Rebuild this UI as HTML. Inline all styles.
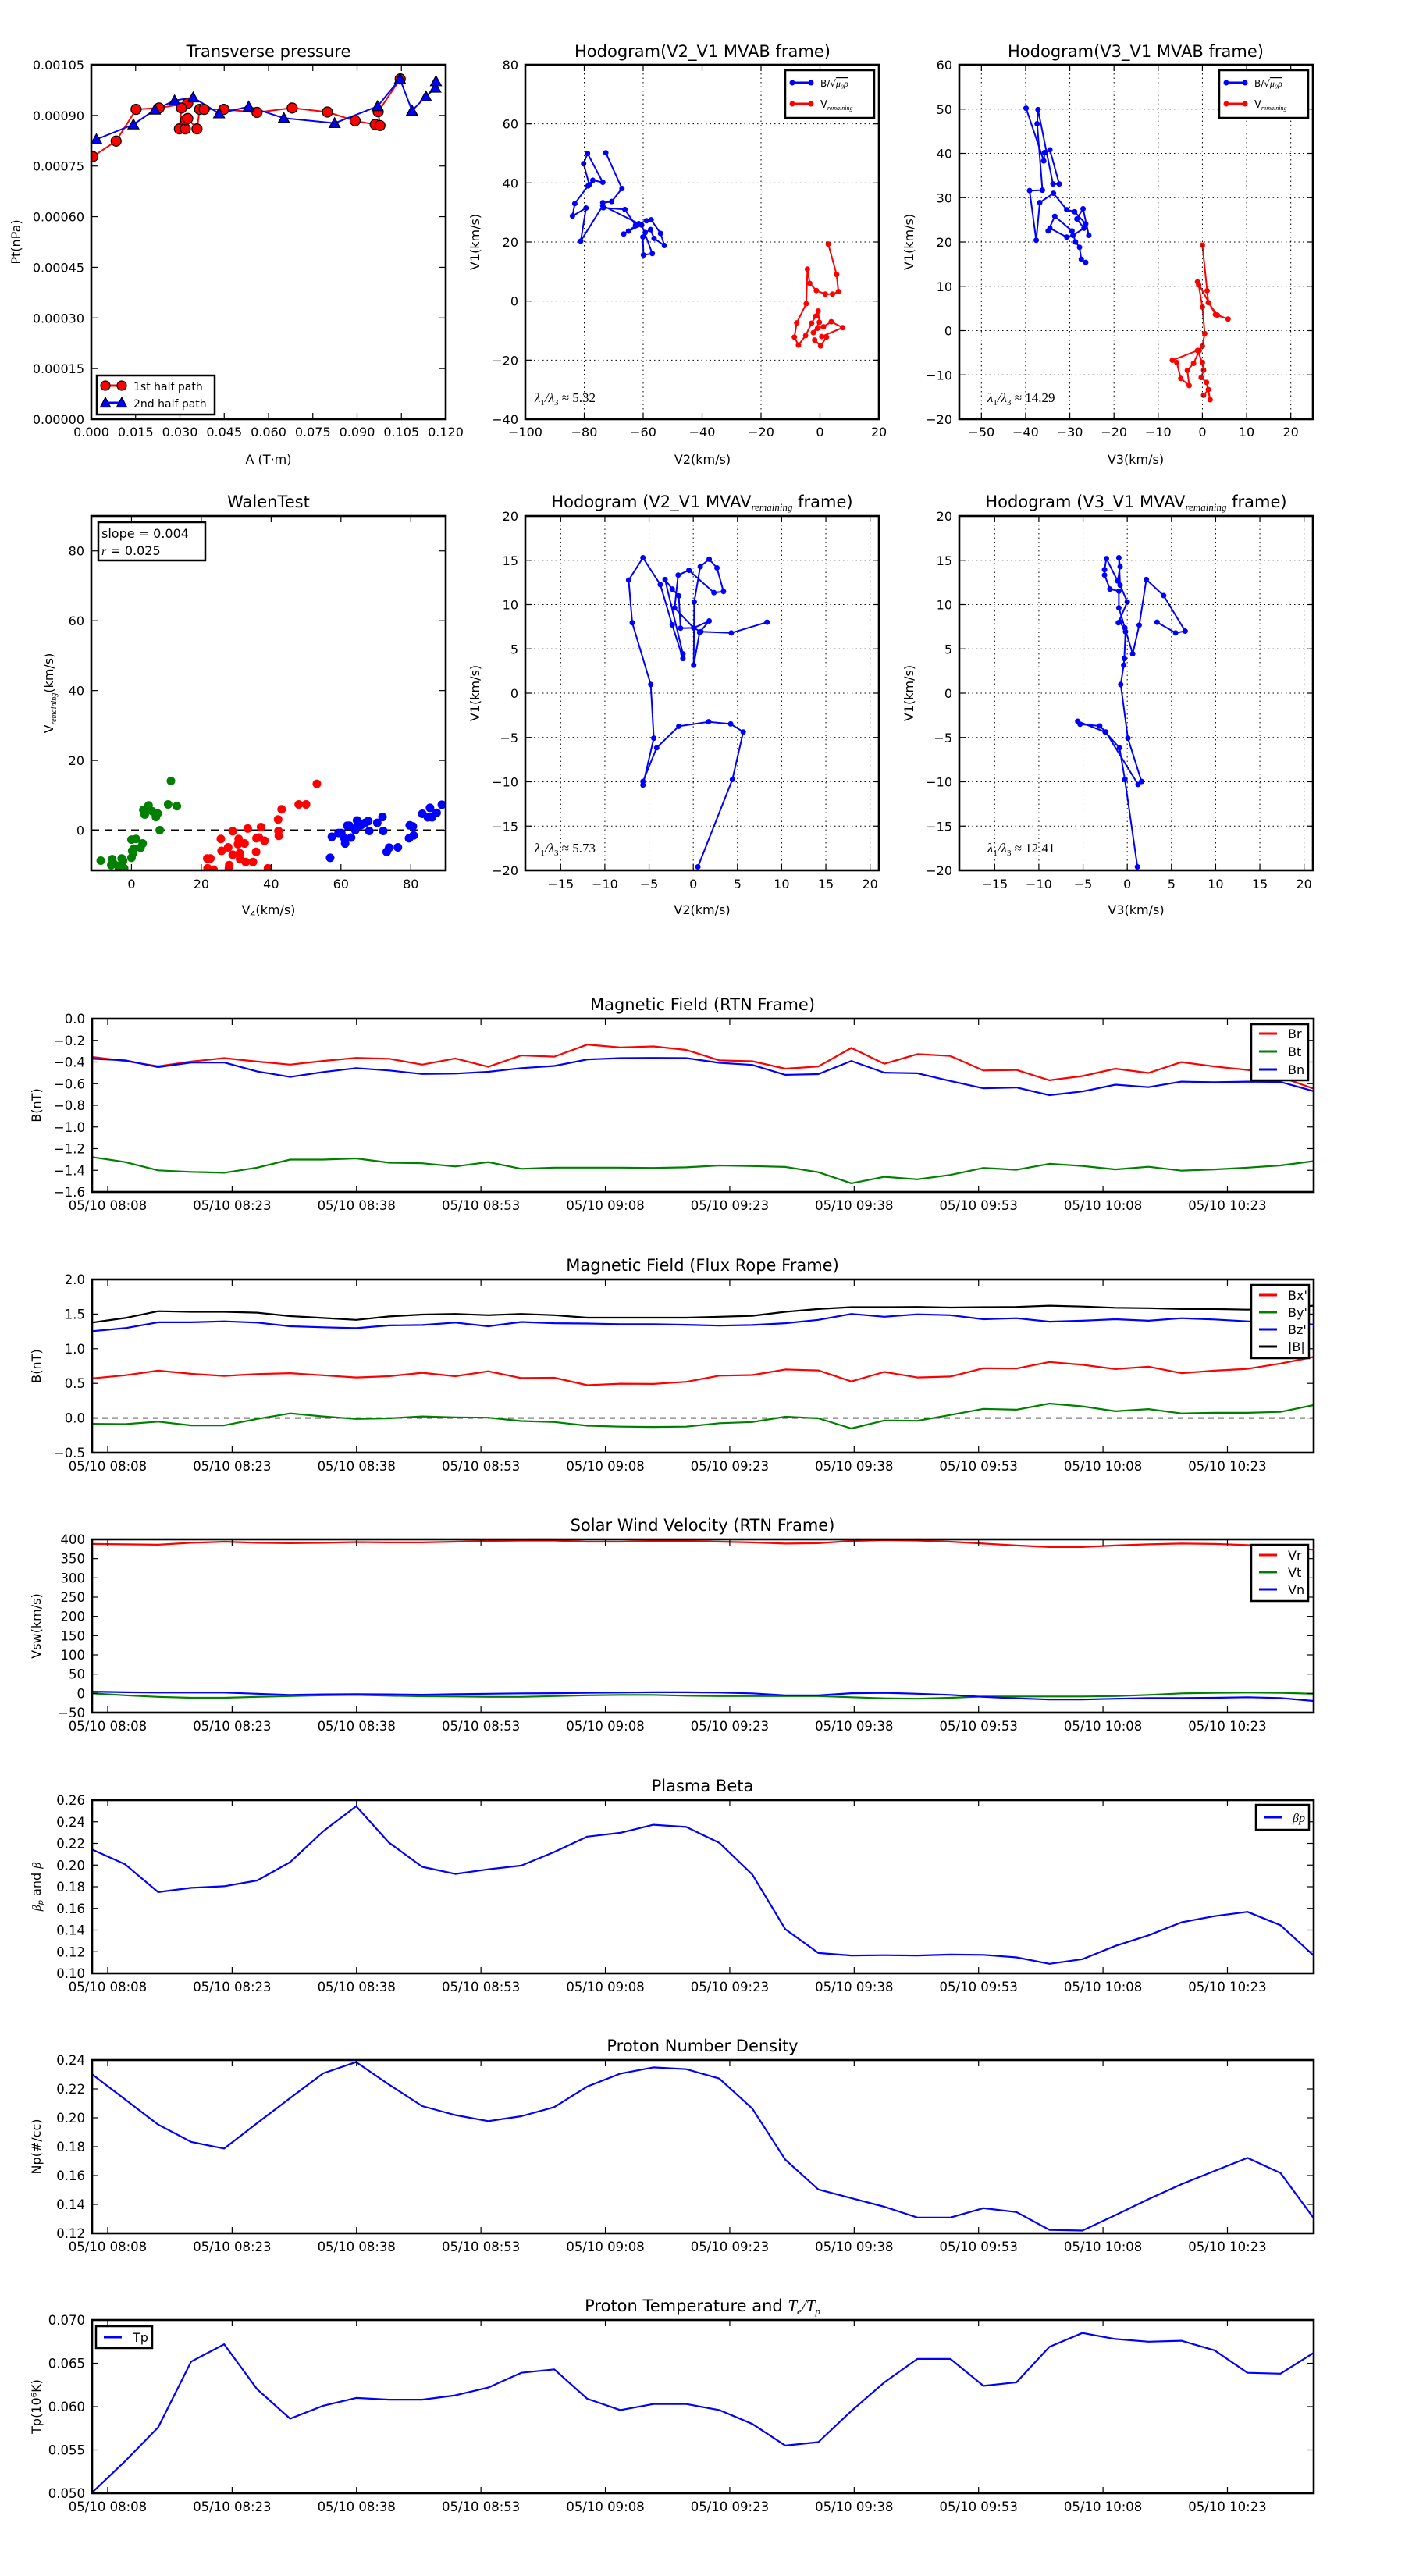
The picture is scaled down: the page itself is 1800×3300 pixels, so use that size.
<!DOCTYPE html>
<html><head><meta charset="utf-8"><title>Flux rope analysis</title>
<style>
html,body{margin:0;padding:0;background:#fff;}
svg{display:block;font-family:"DejaVu Sans","Liberation Sans",sans-serif;}
</style></head>
<body>
<svg id="fig" xmlns="http://www.w3.org/2000/svg" width="1800" height="3300" viewBox="0 0 1800 3300">
<rect x="0" y="0" width="1800" height="3300" fill="#fff"/>
</svg>
<script>
// ---------- Data: Transverse pressure ----------
const pt1A=[0.0005,0.0084,0.01516,0.02294,0.03265,0.03053,0.02982,0.03184,0.03194,0.03265,0.03578,0.03669,0.03821,0.04488,0.0561,0.06802,0.07995,0.08935,0.09612,0.09774,0.09713,0.1046];
const pt1P=[0.000778,0.000824,0.000918,0.000922,0.000936,0.000922,0.00086,0.00086,0.000887,0.000891,0.00086,0.000918,0.000918,0.000918,0.000909,0.000922,0.00091,0.000884,0.000873,0.00087,0.000911,0.001008];
const pt2A=[0.00172,0.01425,0.02153,0.0282,0.03447,0.04326,0.05327,0.06519,0.08238,0.09693,0.1045,0.1086,0.1133,0.1165,0.1167];
const pt2P=[0.000829,0.000873,0.000917,0.000944,0.000953,0.000906,0.000926,0.000892,0.000877,0.000927,0.001008,0.000914,0.000956,0.000982,0.001001];
const ptXTicks=[0,0.015,0.03,0.045,0.06,0.075,0.09,0.105,0.12];
const ptYTicks=[0,0.00015,0.0003,0.00045,0.0006,0.00075,0.0009,0.00105];
// ---------- Data: Hodogram V2_V1 MVAB ----------
const h1bV2=[-72.7,-67.2,-70.7,-73.7,-73.5,-66.2,-62.6,-58.9,-57.3,-54.1,-52.8,-56.3,-57.5,-59.3,-60.1,-59.9,-56.9,-60.5,-65.0,-66.6,-61.5,-73.7,-81.2,-79.4,-84.0,-83.2,-78.7,-77.1,-73.7,-78.9,-80.2,-78.3];
const h1bV1=[50.2,38.1,33.7,33.3,31.6,31.0,25.7,27.2,27.5,22.9,18.8,21.2,24.2,23.2,21.7,15.6,16.1,25.7,23.7,22.7,26.2,32.3,20.3,31.5,28.8,33.0,39.0,40.9,40.2,50.0,46.5,39.4];
const h1rV2=[2.8,5.65,6.26,4.24,1.81,-1.23,-3.46,-4.27,-4.67,-7.9,-8.7,-7.3,-4.87,-2.85,-1.43,-0.62,-0.22,-2.24,-0.83,1.2,3.83,7.7,0.6,2.2,0.2,-1.8];
const h1rV1=[19.3,9.0,3.2,2.35,2.35,3.56,6.0,10.8,-0.9,-7.4,-12.2,-14.9,-11.7,-7.5,-5.1,-3.4,-7.2,-10.7,-9.2,-8.7,-7.0,-9.0,-12.0,-12.2,-15.2,-13.2];
const h1XTicks=[-100,-80,-60,-40,-20,0,20];
const h1YTicks=[-40,-20,0,20,40,60,80];
// ---------- Data: Hodogram V3_V1 MVAB ----------
const h2bV3=[-39.9,-35.9,-35.7,-34.5,-32.4,-33.8,-37.2,-37.4,-36.2,-39.1,-37.6,-36.8,-33.7,-30.7,-28.9,-26.4,-25.7,-27.0,-28.4,-26.8,-29.3,-30.7,-34.5,-34.9,-33.4,-29.5,-28.7,-27.8,-27.4,-26.4];
const h2bV1=[50.2,38.3,40.2,40.8,33.1,33.1,49.9,46.7,31.7,31.6,20.4,28.9,31.0,27.3,26.8,24.1,21.5,27.5,25.2,23.1,21.5,21.1,23.1,22.5,25.8,22.5,20.0,18.8,16.1,15.4];
const h2rV3=[0.0,1.07,1.34,3.37,5.8,2.96,-1.1,-0.84,0.0,0.53,0.0,-0.7,-2.0,-3.4,-3.0,-4.9,-5.8,-6.8,-1.1,0.0,0.27,-0.27,0.94,1.75,1.34,0.27];
const h2rV1=[19.3,9.0,6.3,3.5,2.6,3.6,11.0,10.3,5.3,-0.65,-3.5,-4.5,-7.4,-9.0,-12.4,-10.8,-7.2,-6.7,-4.5,-7.2,-8.9,-10.6,-11.7,-15.6,-13.3,-14.6];
const h2XTicks=[-50,-40,-30,-20,-10,0,10,20];
const h2YTicks=[-20,-10,0,10,20,30,40,50,60];
// ---------- Data: Walen test ----------
const wGreenVA=[-8.8,-5.5,-5.8,-5.1,-3.8,-2.8,-2.4,-3.6,-2.1,0,1.3,0.2,0.7,0,0.5,2.6,3.2,3.4,3.8,4.9,6.0,7.0,7.5,8.1,10.5,11.3,13.0];
const wGreenVR=[-8.7,-8.3,-10.0,-9.6,-10.2,-8.1,-8.7,-10.9,-10.9,-2.7,-2.5,-5.9,-5.3,-7.9,-6.6,-5.0,-3.8,5.8,4.5,7.1,5.4,3.8,4.8,0,7.4,14.1,6.9];
const wRedVA=[21.7,22.6,21.8,23.5,25.6,25.8,27.7,28.0,27.9,29.0,29.0,30.7,30.5,31.0,31.1,32.4,32.7,33.3,34.8,35.7,35.8,36.5,37.1,38.1,39.1,42.0,42.1,42.2,43.0,47.9,50.0,53.1];
const wRedVR=[-8.1,-8.1,-10.9,-11.3,-2.5,-5.9,-4.9,-10.0,-10.9,-0.3,-7.0,-2.5,-4.0,-6.6,-8.3,-3.8,-9.1,0.5,-9.1,-6.2,-2.3,-2.1,0.9,-3.0,-10.9,3.1,-0.2,-1.6,6.0,7.4,7.4,13.3];
const wBlueVA=[56.9,57.4,59.3,60.1,61.0,61.2,61.8,62.4,62.9,64.1,64.6,65.0,65.8,66.9,67.8,68.1,70.4,71.9,72.1,73.1,73.8,76.3,79.5,79.7,80.6,80.8,83.3,84.9,85.5,86.1,87.4,88.9];
const wBlueVR=[-7.9,-1.9,-0.8,-0.8,-2.3,-3.8,1.3,1.3,-2.1,0,2.8,1.3,1.5,2.1,2.6,-0.2,2.1,3.8,-0.2,-6.2,-5.0,-4.9,-2.3,1.4,1.1,-1.5,4.7,3.7,6.4,3.7,5.0,7.3];
const wXTicks=[0,20,40,60,80];
const wYTicks=[0,20,40,60,80];
// ---------- Data: Hodograms MVAV ----------
const h3V2=[0.52,4.43,5.65,4.23,1.73,-1.64,-4.14,-5.69,-5.69,-4.47,-4.81,-6.9,-7.31,-5.69,-3.73,-2.38,-1.17,-1.17,-3.19,-2.38,-1.64,-1.44,0.05,1.8,0.72,0.05,0.11,0.79,1.8,2.68,3.42,2.34,-0.49,-1.71,-2.11,0.05,0.86,4.3,8.35];
const h3V1=[-19.6,-9.74,-4.38,-3.47,-3.23,-3.74,-6.16,-9.97,-10.37,-5.08,0.98,7.95,12.76,15.29,12.26,7.71,3.91,4.44,12.83,11.75,10.98,7.34,7.37,8.15,6.87,3.16,10.3,14.28,15.12,14.14,11.48,11.35,13.87,13.33,9.63,7.37,6.94,6.8,8.01];
const h4V3=[1.15,-0.27,-0.88,-2.5,-5.61,-5.34,-3.11,-2.43,1.22,1.62,0.07,-0.74,-0.4,-0.33,-0.2,-0.81,-1.01,0,-0.81,-0.95,-0.81,-1.08,-2.36,-2.57,-2.57,-1.96,-0.95,-0.95,-0.27,0.61,1.35,2.16,4.12,6.55,5.47,3.37];
const h4V1=[-19.6,-9.74,-6.16,-4.38,-3.17,-3.5,-3.7,-4.38,-10.3,-9.97,-5.08,0.98,3.16,3.91,6.94,8.05,7.95,10.3,12.19,15.29,14.28,12.66,15.19,13.94,13.33,11.75,11.52,9.63,7.37,4.44,7.68,12.83,11.01,7.0,6.8,8.01];
const h34XTicks=[-15,-10,-5,0,5,10,15,20];
const h34YTicks=[-20,-15,-10,-5,0,5,10,15,20];
// ---------- Data: time series ----------
const timeLabels=["05/10 08:08","05/10 08:23","05/10 08:38","05/10 08:53","05/10 09:08","05/10 09:23","05/10 09:38","05/10 09:53","05/10 10:08","05/10 10:23"];
const timeTickMin=[0,15,30,45,60,75,90,105,120,135];
const sampleStartMin=-1.88, sampleStepMin=3.98;
const Br=[-0.353,-0.39,-0.44,-0.396,-0.364,-0.396,-0.424,-0.39,-0.362,-0.37,-0.424,-0.367,-0.444,-0.339,-0.35,-0.239,-0.265,-0.256,-0.288,-0.384,-0.393,-0.461,-0.441,-0.27,-0.416,-0.327,-0.344,-0.478,-0.473,-0.569,-0.53,-0.461,-0.501,-0.401,-0.441,-0.473,-0.538,-0.646];
const Bt=[-1.278,-1.324,-1.4,-1.415,-1.423,-1.375,-1.301,-1.301,-1.29,-1.33,-1.335,-1.364,-1.324,-1.386,-1.375,-1.375,-1.375,-1.378,-1.372,-1.355,-1.361,-1.369,-1.418,-1.52,-1.46,-1.483,-1.443,-1.378,-1.395,-1.34,-1.36,-1.392,-1.367,-1.403,-1.392,-1.375,-1.355,-1.315];
const Bn=[-0.37,-0.384,-0.447,-0.404,-0.404,-0.487,-0.538,-0.492,-0.456,-0.478,-0.51,-0.507,-0.49,-0.456,-0.436,-0.376,-0.364,-0.362,-0.364,-0.407,-0.427,-0.518,-0.512,-0.39,-0.498,-0.504,-0.575,-0.643,-0.635,-0.706,-0.672,-0.609,-0.632,-0.581,-0.587,-0.581,-0.584,-0.669];
const Bxp=[0.572,0.617,0.683,0.639,0.608,0.635,0.648,0.617,0.586,0.604,0.653,0.604,0.674,0.577,0.581,0.474,0.496,0.492,0.523,0.612,0.621,0.7,0.687,0.528,0.666,0.586,0.599,0.719,0.714,0.808,0.768,0.706,0.741,0.648,0.683,0.71,0.786,0.879];
const Byp=[-0.085,-0.089,-0.053,-0.107,-0.107,-0.013,0.067,0.022,-0.013,-0.004,0.022,0.009,0.004,-0.044,-0.058,-0.111,-0.125,-0.129,-0.125,-0.076,-0.058,0.018,-0.004,-0.151,-0.036,-0.04,0.044,0.133,0.12,0.209,0.169,0.098,0.129,0.067,0.076,0.076,0.089,0.187];
const Bzp=[1.253,1.297,1.382,1.382,1.395,1.377,1.324,1.31,1.297,1.337,1.342,1.377,1.324,1.386,1.368,1.364,1.355,1.355,1.346,1.333,1.342,1.368,1.417,1.502,1.462,1.497,1.484,1.426,1.44,1.391,1.404,1.426,1.404,1.44,1.422,1.395,1.368,1.35];
const Bmag=[1.377,1.444,1.542,1.533,1.533,1.52,1.471,1.444,1.417,1.466,1.493,1.502,1.484,1.502,1.484,1.448,1.448,1.448,1.448,1.462,1.475,1.533,1.573,1.6,1.6,1.604,1.595,1.6,1.604,1.622,1.609,1.591,1.586,1.573,1.573,1.564,1.582,1.622];
const Vr=[388,387,386,391,394,391,390,391,393,392,392,394,396,397,397,394,394,396,396,394,392,389,390,396,398,397,394,389,384,380,380,384,387,389,388,385,380,373];
const Vt=[0,-5,-9,-11.5,-11.5,-9,-7,-5,-4,-6,-7.5,-8,-9,-9,-7,-5,-4,-4,-6,-7,-7,-7,-7,-10,-13,-14,-11.5,-8,-8,-8,-8,-7,-4,0,1.5,2,1.5,-1];
const Vn=[4.6,3,2,2,2,-1,-4,-2.5,-2,-2.5,-3.5,-2,-1,0,0.5,1.5,2,3,3,2,0,-5,-5,0.5,1.5,-1,-4,-9,-13,-16,-16,-14,-12,-12,-11.5,-10,-12,-19.5];
const betaP=[0.2144,0.2007,0.175,0.179,0.1804,0.1858,0.2027,0.2312,0.2543,0.2206,0.1984,0.1918,0.1961,0.1995,0.2121,0.2263,0.2298,0.2372,0.2352,0.2206,0.1913,0.1408,0.1188,0.1165,0.1168,0.1165,0.1174,0.1171,0.1148,0.1088,0.1131,0.1254,0.1351,0.1471,0.1528,0.1568,0.1445,0.1165];
const Np=[0.2301,0.2127,0.1953,0.1833,0.1787,0.1963,0.2137,0.2308,0.2386,0.2229,0.2081,0.2019,0.1977,0.2011,0.2074,0.2217,0.2306,0.2349,0.2337,0.2272,0.2064,0.171,0.1504,0.1444,0.1384,0.1309,0.1309,0.1374,0.1347,0.1224,0.1219,0.1326,0.1437,0.154,0.1632,0.1722,0.1618,0.1306];
const Tp=[0.05008,0.0537,0.0576,0.0652,0.0672,0.062,0.0586,0.0601,0.061,0.0608,0.0608,0.0613,0.0622,0.0639,0.0643,0.0609,0.0596,0.0603,0.0603,0.0596,0.058,0.0555,0.0559,0.0595,0.0628,0.0655,0.0655,0.0624,0.0628,0.0669,0.0685,0.0678,0.0675,0.0676,0.0665,0.0639,0.0638,0.0662];

// ---------- helpers ----------
const NS='http://www.w3.org/2000/svg';
const svg=document.getElementById('fig');
let clipN=0;
function mk(tag,parent,attrs){const e=document.createElementNS(NS,tag);for(const k in attrs)e.setAttribute(k,attrs[k]);parent.appendChild(e);return e;}
function lin(d0,d1,r0,r1){return v=>r0+(v-d0)/(d1-d0)*(r1-r0);}
function text(parent,x,y,str,size,anchor,name){
  const t=mk('text',parent,{x:x,y:y,'font-size':size,'text-anchor':anchor||'middle',fill:'#000'});
  t.textContent=str;
  
  
  return t;
}
function axes(name,box,xd,yd){
  const g=mk('g',svg,{});
  
  
  const cp=mk('clipPath',g,{id:'cp'+(++clipN)});
  
  
  const cr=mk('rect',cp,{x:box.l,y:box.t,width:box.r-box.l,height:box.b-box.t});
  
  
  const plot=mk('g',g,{'clip-path':'url(#cp'+clipN+')'});
  
  
  return {g:g,plot:plot,box:box,sx:lin(xd[0],xd[1],box.l,box.r),sy:lin(yd[0],yd[1],box.b,box.t)};
}
function frame(A,name){
  const b=A.box;
  const f=mk('rect',A.g,{x:b.l,y:b.t,width:b.r-b.l,height:b.b-b.t,fill:'none',stroke:'#000','stroke-width':2.6});
  
  
}
function xticks(A,vals,labels,fs,grid,name,lblOff){
  const b=A.box;
  vals.forEach((v,i)=>{
    const x=A.sx(v);
    if(grid){const gl=mk('line',A.g,{x1:x,y1:b.t,x2:x,y2:b.b,stroke:'#000','stroke-width':1,'stroke-dasharray':'1.5,4'});
      
      }
    const t1=mk('line',A.g,{x1:x,y1:b.b,x2:x,y2:b.b-8,stroke:'#000','stroke-width':1.2});
    
    
    const t2=mk('line',A.g,{x1:x,y1:b.t,x2:x,y2:b.t+8,stroke:'#000','stroke-width':1.2});
    
    
    text(A.g,x,b.b+(lblOff||22),labels[i],fs,'middle',name+'-x-tick-label');
  });
}
function yticks(A,vals,labels,fs,grid,name){
  const b=A.box;
  vals.forEach((v,i)=>{
    const y=A.sy(v);
    if(grid){const gl=mk('line',A.g,{x1:b.l,y1:y,x2:b.r,y2:y,stroke:'#000','stroke-width':1,'stroke-dasharray':'1.5,4'});
      
      }
    const t1=mk('line',A.g,{x1:b.l,y1:y,x2:b.l+8,y2:y,stroke:'#000','stroke-width':1.2});
    
    
    const t2=mk('line',A.g,{x1:b.r,y1:y,x2:b.r-8,y2:y,stroke:'#000','stroke-width':1.2});
    
    
    text(A.g,b.l-9,y+6,labels[i],fs,'end',name+'-y-tick-label');
  });
}
function ylabel(A,x,str,fs,name){
  const cy=(A.box.t+A.box.b)/2;
  const t=mk('text',A.g,{x:x,y:cy,'font-size':fs,'text-anchor':'middle',transform:'rotate(-90 '+x+' '+cy+')'});
  t.textContent=str;
  
  
  return t;
}
function polyline(A,xs,ys,color,w,name){
  const pts=xs.map((x,i)=>A.sx(x).toFixed(1)+','+A.sy(ys[i]).toFixed(1)).join(' ');
  const p=mk('polyline',A.plot,{points:pts,fill:'none',stroke:color,'stroke-width':w,'stroke-linejoin':'round'});
  
  
}
function dots(A,xs,ys,color,r,stroke,name){
  xs.forEach((x,i)=>{
    const c=mk('circle',A.plot,{cx:A.sx(x),cy:A.sy(ys[i]),r:r,fill:color,stroke:stroke||'none','stroke-width':1.2});
    
    
  });
}
function tris(A,xs,ys,color,s,name){
  xs.forEach((x,i)=>{
    const cx=A.sx(x),cy=A.sy(ys[i]);
    const p=mk('polygon',A.plot,{points:cx+','+(cy-s)+' '+(cx-s)+','+(cy+s*0.8)+' '+(cx+s)+','+(cy+s*0.8),fill:color,stroke:'#000','stroke-width':1.2});
    
    
  });
}
function legendBox(parent,x,y,w,h,name){
  const r=mk('rect',parent,{x:x,y:y,width:w,height:h,fill:'#fff',stroke:'#000','stroke-width':2.5});
  
  
}
function legendLine(parent,x1,x2,y,color,name){
  const l=mk('line',parent,{x1:x1,y1:y,x2:x2,y2:y,stroke:color,'stroke-width':3});
  
  
}
function fmt(n,d){return n.toFixed(d);}
function fmtM(n,d){const s=n.toFixed(d);return s.replace('-','\u2212');}

// ---------- Panel 1: Transverse pressure ----------
(function(){
  const A=axes('transverse-pressure-chart',{l:117,t:83,r:571,b:537},[0,0.12],[0,0.00105]);
  xticks(A,ptXTicks,ptXTicks.map(v=>fmt(v,3)),16,false,'pt',22);
  yticks(A,ptYTicks,ptYTicks.map(v=>fmt(v,5)),16,false,'pt');
  polyline(A,pt1A,pt1P,'#ff0000',2,'first-half-path-line');
  polyline(A,pt2A,pt2P,'#0000ff',2,'second-half-path-line');
  dots(A,pt1A,pt1P,'#ff0000',6.5,'#000','first-half-path-marker');
  tris(A,pt2A,pt2P,'#0000ff',7,'second-half-path-marker');
  frame(A,'pt');
  text(A.g,344,73,'Transverse pressure',21,'middle','pt-title');
  text(A.g,344,594,'A (T\u00b7m)',16,'middle','pt-x-axis-title');
  ylabel(A,26,'Pt(nPa)',16,'pt-y-axis-title');
  const lg=mk('g',A.g,{});
  
  
  legendBox(lg,124,481,151,50,'pt-legend-box');
  legendLine(lg,135,156,494,'#ff0000','pt-legend-line-1st');
  [135,156].forEach(x=>{const c=mk('circle',lg,{cx:x,cy:494,r:6,fill:'#ff0000',stroke:'#000','stroke-width':1.2});
    
    });
  legendLine(lg,135,156,516,'#0000ff','pt-legend-line-2nd');
  [135,156].forEach(x=>{const p=mk('polygon',lg,{points:x+','+(516-7)+' '+(x-6.5)+','+(516+5.5)+' '+(x+6.5)+','+(516+5.5),fill:'#0000ff',stroke:'#000','stroke-width':1.2});
    
    });
  text(lg,171,500,'1st half path',14,'start','pt-legend-label-1st');
  text(lg,171,522,'2nd half path',14,'start','pt-legend-label-2nd');
})();

// ---------- Hodogram helper ----------
function hodoLegend(A,x0,name){
  const lg=mk('g',A.g,{});
  
  
  legendBox(lg,x0,90,114,61,name+'-legend-box');
  legendLine(lg,x0+9,x0+33,106,'#0000ff',name+'-legend-line-b');
  [x0+9,x0+33].forEach(x=>{const c=mk('circle',lg,{cx:x,cy:106,r:3.5,fill:'#0000ff'});
    
    });
  legendLine(lg,x0+9,x0+33,133,'#ff0000',name+'-legend-line-v');
  [x0+9,x0+33].forEach(x=>{const c=mk('circle',lg,{cx:x,cy:133,r:3.5,fill:'#ff0000'});
    
    });
  const t1=text(lg,x0+45,111,'B/\u221a',12,'start',name+'-legend-label-b');
  const ts=mk('tspan',t1,{'font-style':'italic','font-family':'Liberation Serif, serif','text-decoration':'overline'});
  ts.textContent='\u03bc\u2080\u03c1';
  
  
  const t2=text(lg,x0+45,138,'V',13,'start',name+'-legend-label-v');
  const ts2=mk('tspan',t2,{'font-size':8,'font-style':'italic','font-family':'Liberation Serif, serif',dy:3});
  ts2.textContent='remaining';
  
  
}
function lambdaText(A,x,y,a,b,val,name){
  const t=mk('text',A.g,{x:x,y:y,'font-size':17,'font-family':'Liberation Serif, serif'});
  
  
  const parts=[['\u03bb',0,'italic'],['1',4,''],['/\u03bb',-4,'italic'],[a==='2'?'2':'3',4,''],[' \u2248 '+val,-4,'']];
  parts.forEach(p=>{const s=mk('tspan',t,{dy:p[1]});if(p[2])s.setAttribute('font-style',p[2]);if(p[1]>0)s.setAttribute('font-size',11);s.textContent=p[0];
    
    });
}
// ---------- Panel 2: Hodogram V2_V1 MVAB ----------
(function(){
  const A=axes('hodogram-v2v1-mvab',{l:673,t:83,r:1126,b:537},[-100,20],[-40,80]);
  xticks(A,h1XTicks,h1XTicks.map(v=>fmtM(v,0)),16,true,'h1',22);
  yticks(A,h1YTicks,h1YTicks.map(v=>fmtM(v,0)),16,true,'h1');
  polyline(A,h1bV2,h1bV1,'#0000ff',2,'h1-b-alfven-line');
  dots(A,h1bV2,h1bV1,'#0000ff',3.5,null,'h1-b-alfven-point');
  polyline(A,h1rV2,h1rV1,'#ff0000',2,'h1-v-remaining-line');
  dots(A,h1rV2,h1rV1,'#ff0000',3.5,null,'h1-v-remaining-point');
  frame(A,'h1');
  text(A.g,900,73,'Hodogram(V2_V1 MVAB frame)',21,'middle','h1-title');
  text(A.g,900,594,'V2(km/s)',16,'middle','h1-x-axis-title');
  ylabel(A,614,'V1(km/s)',16,'h1-y-axis-title');
  hodoLegend(A,1006,'h1');
  lambdaText(A,685,515,'1','2','5.32','h1-eigen-ratio');
})();
// ---------- Panel 3: Hodogram V3_V1 MVAB ----------
(function(){
  const A=axes('hodogram-v3v1-mvab',{l:1229,t:83,r:1682,b:537},[-55,25],[-20,60]);
  xticks(A,h2XTicks,h2XTicks.map(v=>fmtM(v,0)),16,true,'h2',22);
  yticks(A,h2YTicks,h2YTicks.map(v=>fmtM(v,0)),16,true,'h2');
  polyline(A,h2bV3,h2bV1,'#0000ff',2,'h2-b-alfven-line');
  dots(A,h2bV3,h2bV1,'#0000ff',3.5,null,'h2-b-alfven-point');
  polyline(A,h2rV3,h2rV1,'#ff0000',2,'h2-v-remaining-line');
  dots(A,h2rV3,h2rV1,'#ff0000',3.5,null,'h2-v-remaining-point');
  frame(A,'h2');
  text(A.g,1455,73,'Hodogram(V3_V1 MVAB frame)',21,'middle','h2-title');
  text(A.g,1455,594,'V3(km/s)',16,'middle','h2-x-axis-title');
  ylabel(A,1170,'V1(km/s)',16,'h2-y-axis-title');
  hodoLegend(A,1562,'h2');
  lambdaText(A,1265,515,'1','3','14.29','h2-eigen-ratio');
})();
// ---------- Panel 4: Walen test ----------
(function(){
  const A=axes('walen-test-chart',{l:117,t:661,r:571,b:1115},[-11.5,90],[-11.5,90]);
  xticks(A,wXTicks,wXTicks.map(v=>String(v)),16,false,'walen',23);
  yticks(A,wYTicks,wYTicks.map(v=>String(v)),16,false,'walen');
  const dl=mk('line',A.plot,{x1:A.sx(-11.5),y1:A.sy(0),x2:A.sx(90),y2:A.sy(0),stroke:'#000','stroke-width':2,'stroke-dasharray':'10,7'});
  
  
  dots(A,wGreenVA,wGreenVR,'#008000',5.5,null,'walen-point-green');
  dots(A,wRedVA,wRedVR,'#ff0000',5.5,null,'walen-point-red');
  dots(A,wBlueVA,wBlueVR,'#0000ff',5.5,null,'walen-point-blue');
  frame(A,'walen');
  text(A.g,344,650,'WalenTest',21,'middle','walen-title');
  const xl=text(A.g,344,1171,'V',16,'middle','walen-x-axis-title');
  const xs=mk('tspan',xl,{'font-size':10,'font-style':'italic',dy:3});xs.textContent='A';
  
  
  const xs2=mk('tspan',xl,{dy:-3});xs2.textContent='(km/s)';
  
  
  const yl=ylabel(A,68,'V',16,'walen-y-axis-title');
  const ys=mk('tspan',yl,{'font-size':10,'font-style':'italic','font-family':'Liberation Serif, serif',dy:4});ys.textContent='remaining';
  
  
  const ys2=mk('tspan',yl,{dy:-4});ys2.textContent='(km/s)';
  
  
  legendBox(A.g,126,669,137,49,'walen-stats-box');
  text(A.g,130,689,'slope = 0.004',16,'start','walen-slope-text');
  const rt=text(A.g,130,711,'',16,'start','walen-r-text');
  const ri=mk('tspan',rt,{'font-style':'italic','font-family':'Liberation Serif, serif'});ri.textContent='r';
  
  
  const rv=mk('tspan',rt,{});rv.textContent=' = 0.025';
  
  
})();
// ---------- Panel 5/6: MVAV hodograms ----------
function mvav(name,box,xs,ys,title,xlab,ylx,lamX,lamB,lamV){
  const A=axes(name,box,[-19,21],[-20,20]);
  xticks(A,h34XTicks,h34XTicks.map(v=>fmtM(v,0)),16,true,name,23);
  yticks(A,h34YTicks,h34YTicks.map(v=>fmtM(v,0)),16,true,name);
  polyline(A,xs,ys,'#0000ff',2,name+'-line');
  dots(A,xs,ys,'#0000ff',3.5,null,name+'-point');
  frame(A,name);
  const cx=(box.l+box.r)/2;
  const t=text(A.g,cx,650,title[0],21,'middle',name+'-title');
  const s=mk('tspan',t,{'font-size':13,'font-style':'italic','font-family':'Liberation Serif, serif',dy:4});s.textContent='remaining';
  
  
  const s2=mk('tspan',t,{dy:-4});s2.textContent=' frame)';
  
  
  text(A.g,cx,1171,xlab,16,'middle',name+'-x-axis-title');
  ylabel(A,ylx,'V1(km/s)',16,name+'-y-axis-title');
  lambdaText(A,lamX,1092,'1',lamB,lamV,name+'-eigen-ratio');
}
mvav('hodogram-v2v1-mvav',{l:673,t:661,r:1126,b:1115},h3V2,h3V1,['Hodogram (V2_V1 MVAV'],'V2(km/s)',614,685,'2','5.73');
mvav('hodogram-v3v1-mvav',{l:1229,t:661,r:1682,b:1115},h4V3,h4V1,['Hodogram (V3_V1 MVAV'],'V3(km/s)',1170,1265,'3','12.41');

// ---------- Time series panels ----------
const tsTimes=Br.map((_,i)=>sampleStartMin+sampleStepMin*i);
function tsPanel(name,top,yd,yt,ydec,series,title,yl,legend){
  const box={l:118,t:top,r:1683,b:top+222};
  const A=axes(name,box,[-1.88,145.4],yd);
  xticks(A,timeTickMin,timeLabels,16.5,false,name,23);
  yticks(A,yt,yt.map(v=>fmtM(v,ydec)),16.5,false,name);
  series.forEach(s=>{
    if(s.dash){const l=mk('line',A.plot,{x1:box.l,x2:box.r,y1:A.sy(0),y2:A.sy(0),stroke:'#000','stroke-width':1.6,'stroke-dasharray':'7,6'});
      
      }
    else polyline(A,tsTimes,s.v,s.c,2.2,name+'-'+s.n+'-line');
  });
  frame(A,name);
  if(typeof title==='string') text(A.g,900,top-11,title,21,'middle',name+'-title');
  else title(A);
  if(typeof yl==='string') ylabel(A,52,yl,16,name+'-y-axis-title');
  else yl(A);
  if(legend){
    const lg=mk('g',A.g,{});
    
    
    legendBox(lg,legend.x,legend.y,legend.w,legend.h,name+'-legend-box');
    legend.items.forEach(it=>{
      legendLine(lg,legend.x+10,legend.x+33,it.y,it.c,name+'-legend-line-'+it.k);
      const t=text(lg,legend.x+47,it.y+6,it.t,16,'start',name+'-legend-label-'+it.k);
      if(it.it){t.setAttribute('font-style','italic');t.setAttribute('font-family','Liberation Serif, serif');}
    });
  }
  return A;
}
tsPanel('magnetic-field-rtn',1305,[-1.6,0],[-1.6,-1.4,-1.2,-1.0,-0.8,-0.6,-0.4,-0.2,0.0],1,
  [{n:'br',c:'#ff0000',v:Br},{n:'bt',c:'#008000',v:Bt},{n:'bn',c:'#0000ff',v:Bn}],
  'Magnetic Field (RTN Frame)','B(nT)',
  {x:1603,y:1312,w:73,h:72,items:[{k:'br',y:1324,c:'#ff0000',t:'Br'},{k:'bt',y:1347,c:'#008000',t:'Bt'},{k:'bn',y:1370,c:'#0000ff',t:'Bn'}]});
tsPanel('magnetic-field-flux-rope',1639,[-0.5,2.0],[-0.5,0.0,0.5,1.0,1.5,2.0],1,
  [{dash:true},{n:'bx',c:'#ff0000',v:Bxp},{n:'by',c:'#008000',v:Byp},{n:'bz',c:'#0000ff',v:Bzp},{n:'bmag',c:'#000000',v:Bmag}],
  'Magnetic Field (Flux Rope Frame)','B(nT)',
  {x:1603,y:1646,w:74,h:94,items:[{k:'bx',y:1659,c:'#ff0000',t:"Bx'"},{k:'by',y:1681,c:'#008000',t:"By'"},{k:'bz',y:1703,c:'#0000ff',t:"Bz'"},{k:'bmag',y:1725,c:'#000',t:'|B|'}]});
tsPanel('solar-wind-velocity',1972,[-50,400],[-50,0,50,100,150,200,250,300,350,400],0,
  [{n:'vr',c:'#ff0000',v:Vr},{n:'vt',c:'#008000',v:Vt},{n:'vn',c:'#0000ff',v:Vn}],
  'Solar Wind Velocity (RTN Frame)','Vsw(km/s)',
  {x:1603,y:1979,w:73,h:72,items:[{k:'vr',y:1992,c:'#ff0000',t:'Vr'},{k:'vt',y:2014,c:'#008000',t:'Vt'},{k:'vn',y:2036,c:'#0000ff',t:'Vn'}]});
tsPanel('plasma-beta',2306,[0.10,0.26],[0.10,0.12,0.14,0.16,0.18,0.20,0.22,0.24,0.26],2,
  [{n:'beta-p',c:'#0000ff',v:betaP}],
  'Plasma Beta',
  function(A){const cy=(A.box.t+A.box.b)/2;const t=mk('text',A.g,{x:52,y:cy,'font-size':16,'text-anchor':'middle',transform:'rotate(-90 52 '+cy+')'});
    
    
    const a=mk('tspan',t,{'font-style':'italic','font-family':'Liberation Serif, serif'});a.textContent='\u03b2';
    
    
    const b=mk('tspan',t,{'font-size':10,'font-style':'italic',dy:3});b.textContent='p';
    
    
    const c=mk('tspan',t,{dy:-3});c.textContent=' and ';
    
    
    const d=mk('tspan',t,{'font-style':'italic','font-family':'Liberation Serif, serif'});d.textContent='\u03b2';
    
    },
  {x:1609,y:2312,w:68,h:32,items:[{k:'beta-p',y:2328,c:'#0000ff',t:'\u03b2p',it:true}]});
tsPanel('proton-number-density',2639,[0.12,0.24],[0.12,0.14,0.16,0.18,0.20,0.22,0.24],2,
  [{n:'np',c:'#0000ff',v:Np}],'Proton Number Density','Np(#/cc)',null);
tsPanel('proton-temperature',2972,[0.050,0.070],[0.050,0.055,0.060,0.065,0.070],3,
  [{n:'tp',c:'#0000ff',v:Tp}],
  function(A){const t=text(A.g,900,2961,'Proton Temperature and ',21,'middle','proton-temperature-title');
    const a=mk('tspan',t,{'font-style':'italic','font-family':'Liberation Serif, serif'});a.textContent='T';
    
    
    const b=mk('tspan',t,{'font-size':13,'font-style':'italic','font-family':'Liberation Serif, serif',dy:4});b.textContent='e';
    
    
    const c=mk('tspan',t,{'font-style':'italic','font-family':'Liberation Serif, serif',dy:-4});c.textContent='/T';
    
    
    const d=mk('tspan',t,{'font-size':13,'font-style':'italic','font-family':'Liberation Serif, serif',dy:4});d.textContent='p';
    
    },
  'Tp(10\u2076K)',
  {x:123,y:2980,w:72,h:28,items:[{k:'tp',y:2994,c:'#0000ff',t:'Tp'}]});
</script>
</body></html>
